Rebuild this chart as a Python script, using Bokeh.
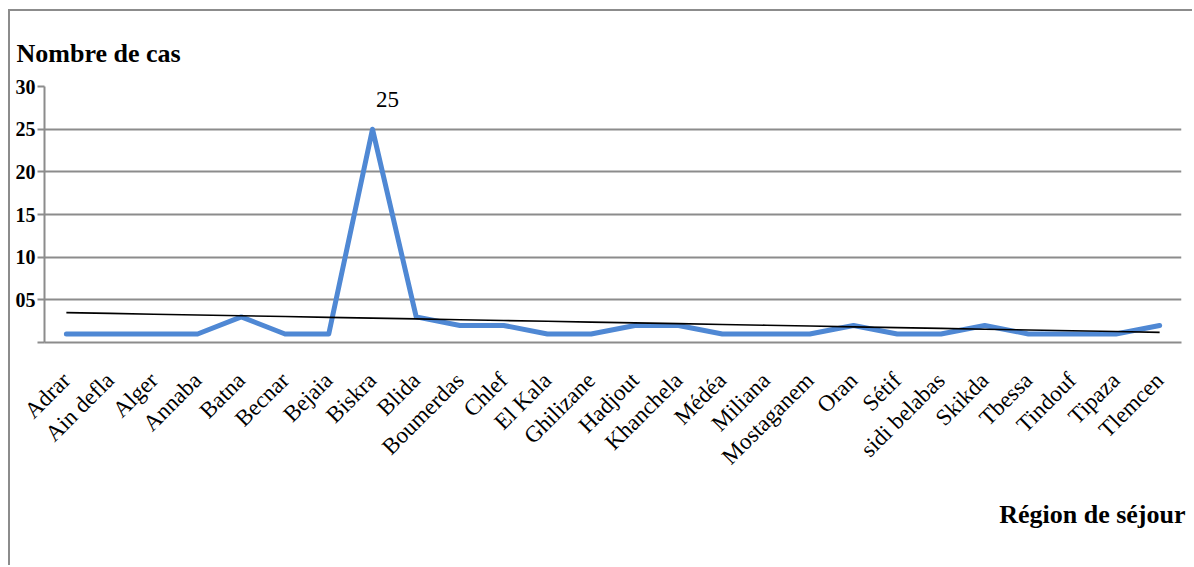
import math
import numpy as np
from bokeh.plotting import figure
from bokeh.models import FixedTicker, Label, Title
from bokeh.embed import file_html
from bokeh.resources import INLINE

regions = ["Adrar", "Ain defla", "Alger", "Annaba", "Batna", "Becnar", "Bejaia",
           "Biskra", "Blida", "Boumerdas", "Chlef", "El Kala", "Ghilizane",
           "Hadjout", "Khanchela", "Médéa", "Miliana", "Mostaganem", "Oran",
           "Sétif", "sidi belabas", "Skikda", "Tbessa", "Tindouf", "Tipaza", "Tlemcen"]
cases = [1, 1, 1, 1, 3, 1, 1, 25, 3, 2, 2, 1, 1, 2, 2, 1, 1, 1, 2, 1, 1, 2, 1, 1, 1, 2]
y_ticks = [0, 5, 10, 15, 20, 25, 30]
y_tick_labels = ["", "05", "10", "15", "20", "25", "30"]
y_title = "Nombre de cas"
x_title = "Région de séjour"

# linear trend line (least squares over category index)
idx = np.arange(len(cases))
slope, intercept = np.polyfit(idx, cases, 1)
trend = list(intercept + slope * idx)

GRAY = "#8c8c8c"
FONT = "Liberation Serif"

p = figure(width=1184, height=556, x_range=regions, y_range=(0, 30),
           output_backend="svg", toolbar_location=None,
           min_border_left=34, min_border_right=13,
           min_border_top=75, min_border_bottom=225)
p.styles = {"margin-left": "8px", "margin-top": "9px",
            "border-left": "2px solid " + GRAY, "border-top": "2px solid " + GRAY}
p.outline_line_color = None
p.background_fill_color = "white"
p.border_fill_color = "white"

# top title (y-axis caption)
p.title.text = y_title
p.title.align = "left"
p.title.offset = -28
p.title.text_font = FONT
p.title.text_font_style = "bold"
p.title.text_font_size = "26px"
p.title.text_color = "black"
p.title.standoff = 38

p.xgrid.grid_line_color = None
p.ygrid.grid_line_color = GRAY
p.ygrid.grid_line_width = 2

p.yaxis.ticker = FixedTicker(ticks=y_ticks, minor_ticks=[])
p.ygrid.ticker = p.yaxis.ticker
p.yaxis.major_label_overrides = dict(zip(y_ticks, y_tick_labels))
p.yaxis.major_label_text_font = FONT
p.yaxis.major_label_text_font_style = "bold"
p.yaxis.major_label_text_font_size = "20px"
p.yaxis.major_label_text_color = "black"
p.yaxis.major_label_standoff = 2
p.yaxis.axis_line_color = GRAY
p.yaxis.axis_line_width = 2
p.yaxis.major_tick_line_color = GRAY
p.yaxis.major_tick_line_width = 2
p.yaxis.major_tick_out = 7
p.yaxis.major_tick_in = 0
p.yaxis.minor_tick_line_color = None

p.xaxis.major_label_orientation = math.pi / 4
p.xaxis.major_label_text_font = FONT
p.xaxis.major_label_text_font_size = "23px"
p.xaxis.major_label_text_color = "black"
p.xaxis.major_label_standoff = 28
p.xaxis.major_tick_line_color = None
p.xaxis.axis_line_color = GRAY
p.xaxis.axis_line_width = 2

# bottom-right caption (x-axis)
p.add_layout(Title(text=x_title, align="right", offset=-4, standoff=32,
                   text_font=FONT, text_font_style="bold",
                   text_font_size="26px", text_color="black"), "below")

p.line(regions, cases, line_color="#4f88d4", line_width=5,
       line_join="round", line_cap="round")
p.line(regions, trend, line_color="black", line_width=1.6)

peak = int(np.argmax(cases))
p.add_layout(Label(x=peak + 0.5, y=cases[peak], text=str(cases[peak]),
                   x_offset=15, y_offset=30, text_align="center",
                   text_baseline="middle", text_font=FONT,
                   text_font_size="23px", text_color="black"))

open("out.html", "w").write(file_html(p, INLINE))
